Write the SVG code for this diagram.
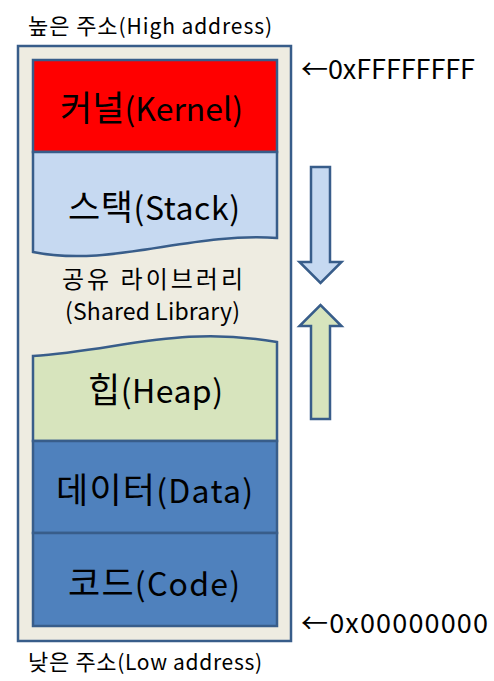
<svg xmlns="http://www.w3.org/2000/svg" width="494" height="681" viewBox="0 0 494 681">
<style>
  text { font-family: "Noto Sans CJK KR", "Noto Sans", sans-serif; fill: #000; }
  .blk { stroke: #385D8A; stroke-width: 2.5; }
  .lbl { font-size: 32px; text-anchor: middle; }
  .lbl .k { font-size: 35px; }
  .mid { font-size: 23px; text-anchor: middle; }
  .mid .k { font-size: 24px; }
  .addr { font-size: 27px; }
  .edge { font-size: 21px; }
  .edge .k { font-size: 22px; }
</style>
<rect width="494" height="681" fill="#FFFFFF"/>
<g id="memory">
  <rect x="18" y="46" width="273" height="595" fill="#EEECE1" class="blk"/>
</g>
<g id="kernel">
  <rect x="33" y="60" width="244" height="92" fill="#FF0000" class="blk"/>
  <text class="lbl" x="151.5" y="121" textLength="183" lengthAdjust="spacing"><tspan class="k">커널</tspan>(Kernel)</text>
</g>
<g id="stack">
  <path d="M33,152 H277 V238 C190,232 110,268 33,252 Z" fill="#C6D9F1" class="blk"/>
  <text class="lbl" x="154" y="220" textLength="172" lengthAdjust="spacing"><tspan class="k">스택</tspan>(Stack)</text>
</g>
<g id="shared">
  <text class="mid" x="152.5" y="288" textLength="181" lengthAdjust="spacing"><tspan class="k">공유 라이브러리</tspan></text>
  <text class="mid" x="152.5" y="320" textLength="175" lengthAdjust="spacing">(Shared Library)</text>
</g>
<g id="heap">
  <path d="M33,356 C120,350 180,325 277,342 V441 H33 Z" fill="#D7E4BD" class="blk"/>
  <text class="lbl" x="155.5" y="403" textLength="135" lengthAdjust="spacing"><tspan class="k">힙</tspan>(Heap)</text>
</g>
<g id="data">
  <rect x="33" y="441" width="244" height="92" fill="#4F81BD" class="blk"/>
  <text class="lbl" x="154.5" y="503" textLength="197" lengthAdjust="spacing"><tspan class="k">데이터</tspan>(Data)</text>
</g>
<g id="code">
  <rect x="33" y="533" width="244" height="93" fill="#4F81BD" class="blk"/>
  <text class="lbl" x="154" y="596" textLength="172" lengthAdjust="spacing"><tspan class="k">코드</tspan>(Code)</text>
</g>
<g id="labels">
  <text class="edge" x="28" y="34" textLength="244" lengthAdjust="spacing"><tspan class="k">높은 주소</tspan>(High address)</text>
  <text class="edge" x="28" y="670" textLength="234" lengthAdjust="spacing"><tspan class="k">낮은 주소</tspan>(Low address)</text>
  <text class="addr" x="301" y="79" textLength="174" lengthAdjust="spacing">←0xFFFFFFFF</text>
  <text class="addr" x="301" y="633" textLength="187" lengthAdjust="spacing">←0x00000000</text>
</g>
<g id="connectors">
  <path d="M311,167 H330 V262 H341.5 L320.5,283 L299.5,262 H311 Z" fill="#C6D9F1" class="blk" stroke-linejoin="miter"/>
  <path d="M311,419 H330 V326 H341.5 L320.5,305 L299.5,326 H311 Z" fill="#D7E4BD" class="blk" stroke-linejoin="miter"/>
</g>
</svg>
